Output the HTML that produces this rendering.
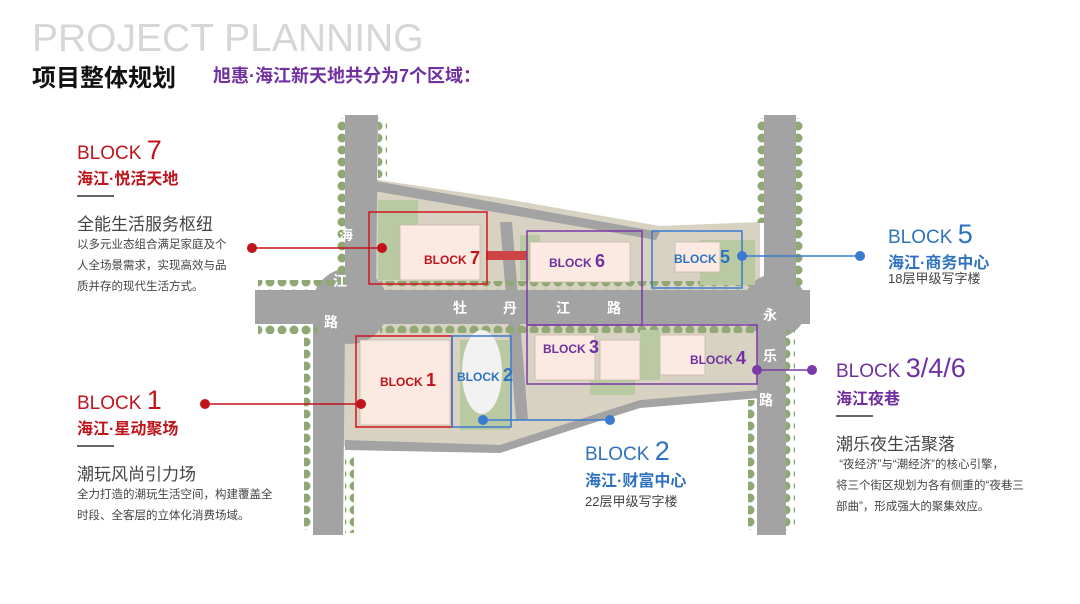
<!DOCTYPE html>
<html><head><meta charset="utf-8"><style>
body{margin:0;width:1080px;height:604px;background:#fff;position:relative;overflow:hidden;font-family:"Liberation Sans","Noto Sans CJK SC",sans-serif}
.a{position:absolute;white-space:nowrap}
.r{color:#c0141c}.b{color:#2f73c0}.p{color:#7030a0}
.blk{font-size:19px;line-height:20px}.blk span{font-size:27px}
.h{font-weight:bold;font-size:16px}
.sub{font-size:17px;color:#444}
.sm{font-size:11.5px;color:#444;line-height:21px}
.ln{position:absolute;width:37px;height:2px;background:#666}
</style></head><body>
<div class="a" style="left:32px;top:16px;font-size:39px;color:#d6d6d6;line-height:46px">PROJECT PLANNING</div>
<div class="a" style="left:32px;top:58px;font-size:24px;font-weight:bold;color:#111">项目整体规划</div>
<div class="a p" style="left:213px;top:62px;font-size:18px;font-weight:bold">旭惠·海江新天地共分为7个区域：</div>

<svg class="a" style="left:0;top:0" width="1080" height="604">
<defs><pattern id="t" width="12" height="12" patternUnits="userSpaceOnUse"><circle cx="6" cy="6" r="4.5" fill="#8fa874"/></pattern></defs>
<g fill="#d8d2c2">
<polygon points="365,178 500,198 660,226 760,222 760,292 365,292"/>
<polygon points="343,324 757,324 757,392 640,400 500,448 343,446"/>
</g>
<g fill="#a3a3a3">
<polygon points="345,115 378,115 376,290 345,290"/>
<polygon points="313,323 345,323 343,535 313,535"/>
<rect x="255" y="290" width="555" height="34"/>
<polygon points="764,115 796,115 796,290 764,290"/>
<polygon points="757,323 786,323 786,535 757,535"/>
<circle cx="350" cy="306" r="38"/><circle cx="775" cy="306" r="32"/>
<polygon points="370,180 660,232 656,240 368,190"/>
<polygon points="345,440 500,445 640,400 760,390 760,398 640,408 500,453 345,450"/>
<polygon points="500,222 512,222 528,420 516,420"/>
</g>
<g fill="url(#t)">
<rect x="336" y="118" width="9" height="170"/><rect x="378" y="118" width="9" height="60"/>
<rect x="304" y="330" width="9" height="200"/><rect x="345" y="455" width="9" height="78"/>
<rect x="755" y="118" width="9" height="105"/><rect x="796" y="118" width="9" height="170"/>
<rect x="748" y="400" width="9" height="130"/><rect x="786" y="330" width="9" height="200"/>
<rect x="258" y="280" width="80" height="10"/><rect x="258" y="324" width="60" height="10"/>
<rect x="380" y="281" width="375" height="9"/><rect x="380" y="324" width="375" height="9"/>
</g>
<g fill="#b9c9a2">
<rect x="378" y="200" width="40" height="80"/><rect x="700" y="240" width="55" height="45"/>
<rect x="460" y="340" width="50" height="90"/><rect x="640" y="330" width="20" height="50"/>
<rect x="520" y="235" width="20" height="45"/><rect x="590" y="380" width="45" height="15"/>
</g>
<g fill="#fbe9e2" stroke="#c9b8a8" stroke-width=".8">
<rect x="400" y="225" width="80" height="55"/><rect x="530" y="242" width="100" height="40"/>
<rect x="675" y="242" width="45" height="30"/><rect x="360" y="340" width="90" height="85"/>
<rect x="535" y="335" width="60" height="45"/><rect x="600" y="340" width="40" height="40"/>
<rect x="660" y="335" width="45" height="40"/>
</g>
<ellipse cx="482" cy="372" rx="20" ry="42" fill="#f2f2f2"/>
<rect x="486" y="251" width="41" height="9" fill="#c44"/>
<g font-family="Liberation Sans,Noto Sans CJK SC,sans-serif" font-size="14" font-weight="bold" fill="#fff" text-anchor="middle">
<text x="346" y="240">海</text><text x="340" y="286">江</text><text x="331" y="327">路</text>
<text x="460" y="313">牡</text><text x="510" y="313">丹</text><text x="563" y="313">江</text><text x="614" y="313">路</text>
<text x="770" y="320">永</text><text x="770" y="361">乐</text><text x="766" y="405">路</text>
</g>
<g fill="none" stroke-width="1.5">
<rect x="369" y="212" width="118" height="72" stroke="#d0141c"/>
<rect x="356" y="336" width="96" height="91" stroke="#d0141c"/>
<rect x="452" y="336" width="59" height="91" stroke="#3a7bd0"/>
<rect x="652" y="231" width="90" height="57" stroke="#3a7bd0"/>
<rect x="527" y="231" width="115" height="94" stroke="#7a3aa8"/>
<rect x="527" y="325" width="230" height="59" stroke="#7a3aa8"/>
</g>
<g font-family="Liberation Sans,sans-serif" font-weight="bold">
<text x="424" y="264" font-size="12" fill="#c0141c">BLOCK <tspan font-size="18">7</tspan></text>
<text x="380" y="386" font-size="12" fill="#c0141c">BLOCK <tspan font-size="18">1</tspan></text>
<text x="457" y="381" font-size="12" fill="#2f73c0">BLOCK <tspan font-size="18">2</tspan></text>
<text x="549" y="267" font-size="12" fill="#7030a0">BLOCK <tspan font-size="18">6</tspan></text>
<text x="543" y="353" font-size="12" fill="#7030a0">BLOCK <tspan font-size="18">3</tspan></text>
<text x="690" y="364" font-size="12" fill="#7030a0">BLOCK <tspan font-size="18">4</tspan></text>
<text x="674" y="263" font-size="12" fill="#2f73c0">BLOCK <tspan font-size="18">5</tspan></text>
</g>
<g stroke-width="1.5">
<line x1="252" y1="248" x2="382" y2="248" stroke="#c0141c"/><circle cx="252" cy="248" r="5" fill="#c0141c"/><circle cx="382" cy="248" r="5" fill="#c0141c"/>
<line x1="205" y1="404" x2="361" y2="404" stroke="#c0141c"/><circle cx="205" cy="404" r="5" fill="#c0141c"/><circle cx="361" cy="404" r="5" fill="#c0141c"/>
<line x1="742" y1="256" x2="860" y2="256" stroke="#3a7bd0"/><circle cx="742" cy="256" r="5" fill="#3a7bd0"/><circle cx="860" cy="256" r="5" fill="#3a7bd0"/>
<line x1="483" y1="420" x2="610" y2="420" stroke="#3a7bd0"/><circle cx="483" cy="420" r="5" fill="#3a7bd0"/><circle cx="610" cy="420" r="5" fill="#3a7bd0"/>
<line x1="757" y1="370" x2="812" y2="370" stroke="#7a3aa8"/><circle cx="757" cy="370" r="5" fill="#7a3aa8"/><circle cx="812" cy="370" r="5" fill="#7a3aa8"/>
</g>
</svg>

<div class="a r blk" style="left:77px;top:140px">BLOCK <span>7</span></div>
<div class="a r h" style="left:77px;top:165px">海江·悦活天地</div>
<div class="ln" style="left:77px;top:195px"></div>
<div class="a sub" style="left:77px;top:210px">全能生活服务枢纽</div>
<div class="a sm" style="left:77px;top:235px">以多元业态组合满足家庭及个<br>人全场景需求，实现高效与品<br>质并存的现代生活方式。</div>

<div class="a r blk" style="left:77px;top:390px">BLOCK <span>1</span></div>
<div class="a r h" style="left:77px;top:415px">海江·星动聚场</div>
<div class="ln" style="left:77px;top:445px"></div>
<div class="a sub" style="left:77px;top:460px">潮玩风尚引力场</div>
<div class="a sm" style="left:77px;top:485px">全力打造的潮玩生活空间，构建覆盖全<br>时段、全客层的立体化消费场域。</div>

<div class="a b blk" style="left:888px;top:224px">BLOCK <span>5</span></div>
<div class="a b h" style="left:888px;top:249px">海江·商务中心</div>
<div class="a" style="left:888px;top:268px;font-size:13px;color:#444">18层甲级写字楼</div>

<div class="a p blk" style="left:836px;top:358px">BLOCK <span>3/4/6</span></div>
<div class="a p h" style="left:836px;top:385px">海江夜巷</div>
<div class="ln" style="left:836px;top:415px"></div>
<div class="a sub" style="left:836px;top:430px">潮乐夜生活聚落</div>
<div class="a sm" style="left:836px;top:455px">&nbsp;“夜经济”与“潮经济”的核心引擎，<br>将三个街区规划为各有侧重的“夜巷三<br>部曲”，形成强大的聚集效应。</div>

<div class="a b blk" style="left:585px;top:441px">BLOCK <span>2</span></div>
<div class="a b h" style="left:585px;top:467px">海江·财富中心</div>
<div class="a" style="left:585px;top:491px;font-size:13px;color:#444">22层甲级写字楼</div>
</body></html>
